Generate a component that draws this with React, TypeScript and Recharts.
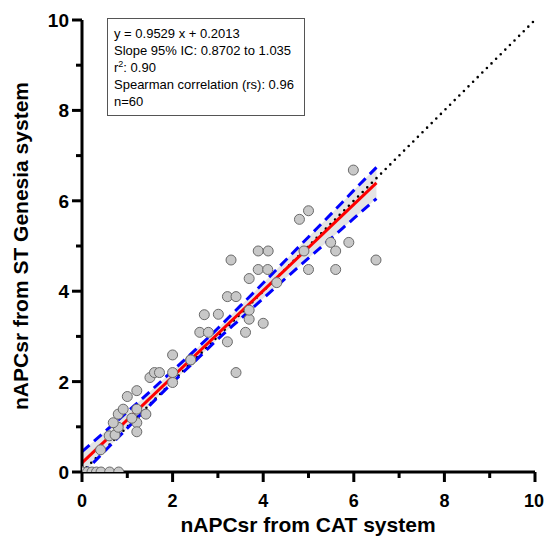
import {
  Area,
  ComposedChart,
  Line,
  Scatter,
  XAxis,
  YAxis,
} from "recharts";

// CAT (x) vs ST Genesia (y) nAPCsr values
const catValues = [
  0, 0, 0, 0.12, 0.22, 0.32, 0.42, 0.61, 0.81,
  0.41, 0.6, 0.73, 0.8, 0.69, 1.21, 1.21, 1.1, 0.8, 1.41, 0.91,
  1.21, 1.0, 1.21, 1.5, 1.6, 1.71, 2.0, 2.0, 2.0, 2.4,
  2.6, 2.79, 2.7, 3.01, 3.21, 3.4, 3.61, 3.69, 3.69, 4.0,
  3.21, 3.4, 3.69, 4.3, 3.89, 4.1, 3.29, 3.89, 4.11, 4.9,
  5.0, 5.6, 5.6, 5.49, 5.89, 4.8, 5.0, 5.99, 6.49, 2.4,
];
const genesiaValues = [
  0, 0, 0, 0, 0, 0, 0, 0, 0,
  0.49, 0.8, 0.82, 0.99, 1.09, 1.09, 0.89, 1.19, 1.28, 1.28, 1.39,
  1.39, 1.67, 1.8, 2.09, 2.2, 2.2, 2.2, 1.98, 2.59, 2.48,
  3.09, 3.09, 3.48, 3.49, 2.88, 2.2, 3.09, 3.38, 3.58, 3.29,
  3.88, 3.88, 4.28, 4.19, 4.48, 4.48, 4.69, 4.89, 4.89, 4.89,
  4.48, 4.48, 4.89, 5.08, 5.08, 5.59, 5.78, 6.68, 4.69, 2.48,
];

// fitted line y = 0.9529 x + 0.2013, drawn over the data range
const fitX = [0, 6.5];
const fitY = [0.2013, 6.395];

// 95% confidence band of the fit
const bandX = [0, 0.5, 1, 1.5, 2, 2.5, 3, 3.5, 4, 4.5, 5, 5.5, 6, 6.5];
const bandLow = [-0.05, 0.46, 0.97, 1.48, 1.98, 2.46, 2.94, 3.39, 3.84, 4.29, 4.73, 5.17, 5.61, 6.05];
const bandHigh = [0.45, 0.89, 1.33, 1.78, 2.24, 2.7, 3.18, 3.68, 4.18, 4.69, 5.2, 5.71, 6.23, 6.74];

// line of identity
const identityX = [0, 10];
const identityY = [0, 10];

const axisTicks = [0, 1, 2, 3, 4, 5, 6, 7, 8, 9, 10];

const statLines = [
  "y = 0.9529 x + 0.2013",
  "Slope 95% IC: 0.8702 to 1.035",
  "r2: 0.90",
  "Spearman correlation (rs): 0.96",
  "n=60",
];

const FONT = "'Liberation Sans', Arial, Helvetica, sans-serif";

const points = catValues.map((x, i) => ({ x, y: genesiaValues[i] }));
const fitData = fitX.map((x, i) => ({ x, y: fitY[i] }));
const bandData = bandX.map((x, i) => ({
  x,
  band: [bandLow[i], bandHigh[i]],
  lo: bandLow[i],
  hi: bandHigh[i],
}));
const identityData = identityX.map((x, i) => ({ x, y: identityY[i] }));

function XTick(props: any) {
  const { x, y, payload } = props;
  const v = payload.value;
  const major = v % 2 === 0;
  return (
    <g>
      <line x1={x} x2={x} y1={y} y2={y + (major ? 10 : 6)} stroke="#000" strokeWidth={3} />
      {major ? (
        <text x={v === 10 ? x - 1 : x} y={y + 35} textAnchor="middle" fontSize={18} fontWeight="bold" fontFamily={FONT} fill="#000">
          {v}
        </text>
      ) : null}
    </g>
  );
}

function YTick(props: any) {
  const { x, y, payload } = props;
  const v = payload.value;
  const major = v % 2 === 0;
  return (
    <g>
      <line x1={x} x2={x - (major ? 10 : 6)} y1={y} y2={y} stroke="#000" strokeWidth={3} />
      {major ? (
        <text x={x - 13} y={y + 7} textAnchor="end" fontSize={19} fontWeight="bold" fontFamily={FONT} fill="#000">
          {v}
        </text>
      ) : null}
    </g>
  );
}

function Dot(props: any) {
  const { cx, cy } = props;
  return <circle cx={cx} cy={cy} r={5} fill="#c8c8c8" stroke="#6a6a6a" strokeWidth={1} />;
}

export default function App() {
  return (
    <div style={{ position: "relative", width: 544, height: 541, fontFamily: FONT }}>
      <style>{`html, body { margin: 0; overflow: hidden; }`}</style>
      <ComposedChart
        width={544}
        height={541}
        margin={{ top: 20, right: 9, left: 8, bottom: 9 }}
      >
        <XAxis
          type="number"
          dataKey="x"
          domain={[0, 10]}
          ticks={axisTicks}
          allowDataOverflow
          height={60}
          tickSize={0}
          tickMargin={0}
          tick={<XTick />}
          axisLine={{ stroke: "#000", strokeWidth: 3 }}
          label={{
            content: () => (
              <text x={308} y={532} textAnchor="middle" fontSize={21} fontWeight="bold" fontFamily={FONT} fill="#000">
                nAPCsr from CAT system
              </text>
            ),
          }}
        />
        <YAxis
          type="number"
          domain={[0, 10]}
          ticks={axisTicks}
          allowDataOverflow
          width={74}
          tickSize={0}
          tickMargin={0}
          tick={<YTick />}
          axisLine={{ stroke: "#000", strokeWidth: 3 }}
          label={{
            content: () => (
              <text
                x={28}
                y={246}
                transform="rotate(-90 28 246)"
                textAnchor="middle"
                fontSize={21}
                fontWeight="bold"
                fontFamily={FONT}
                fill="#000"
              >
                nAPCsr from ST Genesia system
              </text>
            ),
          }}
        />
        <Area
          data={bandData}
          dataKey="band"
          type="monotone"
          stroke="none"
          fill="#e4e4e4"
          fillOpacity={1}
          isAnimationActive={false}
        />
        <Scatter data={points} dataKey="y" shape={<Dot />} isAnimationActive={false} />
        <Line
          data={identityData}
          dataKey="y"
          stroke="#000"
          strokeWidth={2.6}
          strokeDasharray="0 6.5"
          strokeLinecap="round"
          dot={false}
          activeDot={false}
          isAnimationActive={false}
        />
        <Line
          data={bandData}
          dataKey="lo"
          type="monotone"
          stroke="#0000ff"
          strokeWidth={3}
          strokeDasharray="10 6"
          dot={false}
          activeDot={false}
          isAnimationActive={false}
        />
        <Line
          data={bandData}
          dataKey="hi"
          type="monotone"
          stroke="#0000ff"
          strokeWidth={3}
          strokeDasharray="10 6"
          dot={false}
          activeDot={false}
          isAnimationActive={false}
        />
        <Line
          data={fitData}
          dataKey="y"
          stroke="#ff0000"
          strokeWidth={3}
          dot={false}
          activeDot={false}
          isAnimationActive={false}
        />
      </ComposedChart>
      <div
        style={{
          position: "absolute",
          left: 107,
          top: 18,
          width: 198,
          height: 98,
          boxSizing: "border-box",
          border: "1px solid #555",
          background: "#fff",
          padding: "6px 0 0 6px",
          fontSize: 13,
          lineHeight: "17px",
          color: "#000",
        }}
      >
        {statLines.map((t, i) =>
          t.startsWith("r2") ? (
            <div key={i}>
              r<sup style={{ fontSize: 9, lineHeight: 0 }}>2</sup>
              {t.slice(2)}
            </div>
          ) : (
            <div key={i}>{t}</div>
          )
        )}
      </div>
    </div>
  );
}
